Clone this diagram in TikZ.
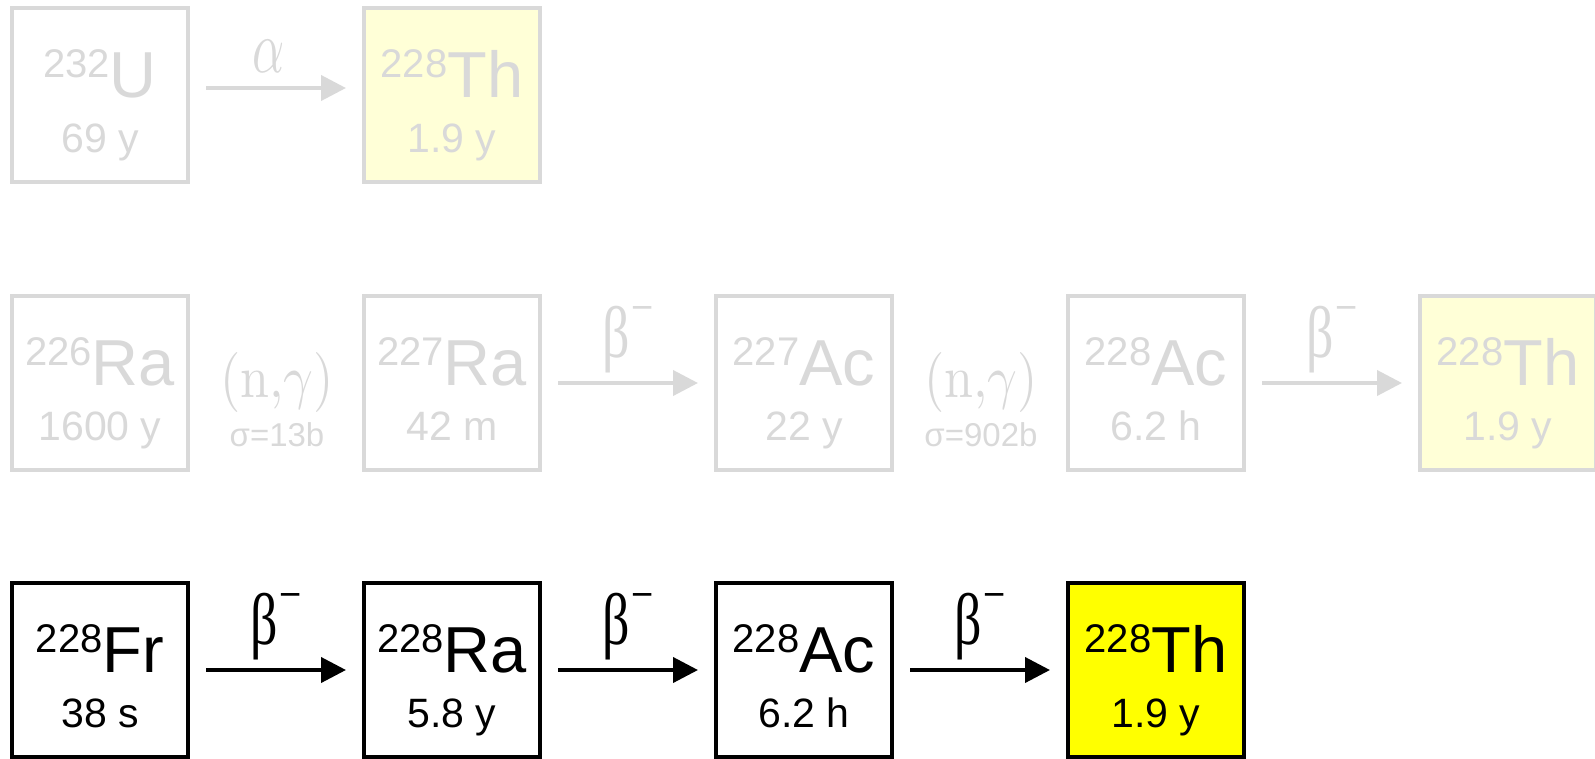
\documentclass[tikz,border=0pt]{standalone}
\usepackage{graphicx}
\usepackage[no-math]{fontspec}
\setmainfont{Liberation Sans}
\newfontfamily\grkserif{Liberation Serif}
\usetikzlibrary{arrows.meta}
\definecolor{lgray}{HTML}{D9D9D9}
\definecolor{lyel}{HTML}{FFFFD7}
\definecolor{yel}{HTML}{FFFF00}
\tikzset{
  isobox/.style={draw, line width=4pt, minimum width=176pt, minimum height=174pt, inner sep=0pt, fill=white},
  cur/.style={isobox, draw=black},
  curth/.style={cur, fill=yel},
  old/.style={isobox, draw=lgray},
  oldth/.style={old, fill=lyel},
  arr/.style={line width=4pt, -{Triangle[length=25pt,width=25pt]}, shorten <=16pt, shorten >=16pt},
  curarr/.style={arr, draw=black},
  oldarr/.style={arr, draw=lgray},
  lbl/.style={anchor=base, inner sep=0pt},
}
\newcommand\iso[8]{%
  \node[lbl, #7] (#1) at (#2,#3) {};
  \node[lbl, text=#8] (#1m) at (#2,#3+2) {\fontsize{40}{40}\selectfont\raisebox{20pt}{#4}\fontsize{65}{65}\selectfont #5};
  \node[lbl, text=#8] (#1h) at (#2,#3+57) {\fontsize{41}{41}\selectfont #6};
}
\newcommand\betam{{\fontsize{54}{54}\selectfont\grkserif\scalebox{1}[1.35]{β}}\hspace{2pt}{\fontsize{38}{38}\selectfont\raisebox{37pt}{−}}}
\newcommand\ngam{\scalebox{5.2}[6]{$(\mathrm{n}{,}\gamma)$}}
\begin{document}
\begin{tikzpicture}[x=1pt,y=-1pt]
\useasboundingbox (0,0) rectangle (1595,758);
% top row
\iso{u}{100}{95}{232}{U}{69 y}{old}{lgray}
\iso{tha}{452}{95}{228}{Th}{1.9 y}{oldth}{lgray}
\draw[oldarr] ([yshift=7pt]u.east) -- node[lbl, text=lgray, yshift=16pt, xshift=-7pt] (alab) {\scalebox{5}[7.5]{$\alpha$}} ([yshift=7pt]tha.west);
% middle row
\iso{raa}{100}{383}{226}{Ra}{1600 y}{old}{lgray}
\iso{rab}{452}{383}{227}{Ra}{42 m}{old}{lgray}
\iso{aca}{804}{383}{227}{Ac}{22 y}{old}{lgray}
\iso{acb}{1156}{383}{228}{Ac}{6.2 h}{old}{lgray}
\iso{thb}{1508}{383}{228}{Th}{1.9 y}{oldth}{lgray}
\node[lbl, text=lgray] (ng1) at (277,397) {\ngam};
\node[lbl, text=lgray] (sg1) at (277,446) {\fontsize{33}{33}\selectfont σ=13b};
\node[lbl, text=lgray] (ng2) at (981,397) {\ngam};
\node[lbl, text=lgray] (sg2) at (981,446) {\fontsize{33}{33}\selectfont σ=902b};
\draw[oldarr] (rab.east) -- node[lbl, text=lgray, yshift=26pt] (b1) {\betam} (aca.west);
\draw[oldarr] (acb.east) -- node[lbl, text=lgray, yshift=26pt] (b2) {\betam} (thb.west);
% bottom row
\iso{fr}{100}{670}{228}{Fr}{38 s}{cur}{black}
\iso{rac}{452}{670}{228}{Ra}{5.8 y}{cur}{black}
\iso{acc}{804}{670}{228}{Ac}{6.2 h}{cur}{black}
\iso{thc}{1156}{670}{228}{Th}{1.9 y}{curth}{black}
\draw[curarr] (fr.east) -- node[lbl, text=black, yshift=26pt] (b3) {\betam} (rac.west);
\draw[curarr] (rac.east) -- node[lbl, text=black, yshift=26pt] (b4) {\betam} (acc.west);
\draw[curarr] (acc.east) -- node[lbl, text=black, yshift=26pt] (b5) {\betam} (thc.west);
\end{tikzpicture}
\end{document}
